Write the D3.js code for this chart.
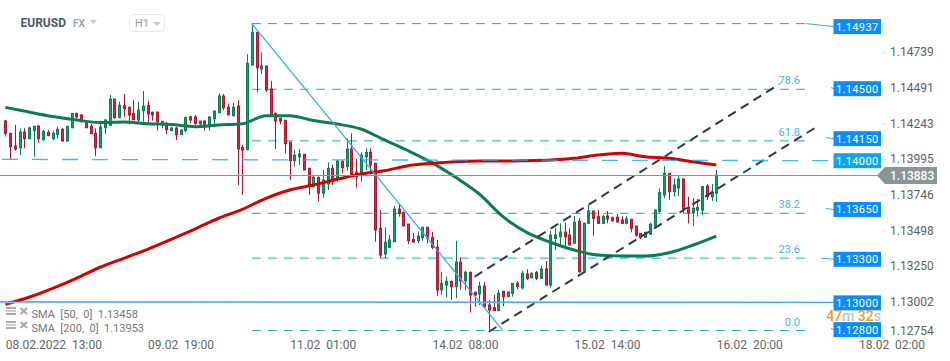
<!DOCTYPE html>
<html>
<head>
<meta charset="utf-8">
<script src="https://cdn.jsdelivr.net/npm/d3@7"></script>
<style>
    body { margin: 0; background: #fff; }
    svg { display: block; font-family: Roboto, sans-serif; }
</style>
</head>
<body>
<script>
// hourly candles, index 0 = 08.02.2022 13:00
const opens = [
    1.14259,1.14173,1.14085,1.14073,1.14182,1.14136,1.14192,1.14224,1.14129,1.14180,
    1.14136,1.14164,1.14201,1.14120,1.14212,1.14312,1.14301,1.14254,1.14222,1.14173,
    1.14073,1.14212,1.14229,1.14412,1.14282,1.14368,1.14354,1.14312,1.14266,1.14331,
    1.14368,1.14321,1.14321,1.14238,1.14229,1.14192,1.14210,1.14164,1.14192,1.14289,
    1.14287,1.14238,1.14259,1.14219,1.14275,1.14317,1.14433,1.14354,1.14298,1.14363,
    1.14076,1.14059,1.14649,1.14876,1.14621,1.14642,1.14482,1.14312,1.14278,1.14264,
    1.14111,1.13983,1.14010,1.14027,1.13930,1.13804,1.13867,1.13756,1.13820,1.13930,
    1.13860,1.13978,1.13941,1.14064,1.13902,1.13883,1.14010,1.14041,1.13964,1.13512,
    1.13333,1.13380,1.13419,1.13646,1.13623,1.13542,1.13435,1.13426,1.13447,1.13519,
    1.13449,1.13380,1.13083,1.13117,1.13143,1.13106,1.13277,1.13147,1.13206,1.13067,
    1.13055,1.13110,1.12978,1.12959,1.12939,1.13074,1.13036,1.13060,1.13129,1.13097,
    1.13194,1.13168,1.13203,1.13164,1.13229,1.13117,1.13442,1.13454,1.13486,1.13465,
    1.13408,1.13561,1.13217,1.13547,1.13632,1.13593,1.13547,1.13598,1.13587,1.13589,
    1.13570,1.13547,1.13575,1.13528,1.13477,1.13449,1.13472,1.13528,1.13628,1.13744,
    1.13895,1.13767,1.13793,1.13855,1.13658,1.13621,1.13639,1.13639,1.13806,1.13732,1.13756
];
const highs = [
    1.14266,1.14173,1.14231,1.14208,1.14208,1.14219,1.14224,1.14229,1.14196,1.14196,
    1.14192,1.14219,1.14210,1.14224,1.14312,1.14317,1.14308,1.14261,1.14238,1.14208,
    1.14247,1.14270,1.14440,1.14412,1.14393,1.14447,1.14359,1.14405,1.14393,1.14468,
    1.14400,1.14321,1.14324,1.14257,1.14254,1.14219,1.14219,1.14196,1.14289,1.14296,
    1.14301,1.14259,1.14261,1.14289,1.14331,1.14451,1.14447,1.14382,1.14386,1.14405,
    1.14092,1.14723,1.14937,1.14876,1.14737,1.14642,1.14537,1.14319,1.14282,1.14264,
    1.14115,1.14057,1.14064,1.14027,1.13930,1.13878,1.13871,1.13918,1.13971,1.13953,
    1.13987,1.13987,1.14138,1.14173,1.13994,1.14041,1.14069,1.14069,1.13964,1.13639,
    1.13519,1.13465,1.13667,1.13686,1.13628,1.13542,1.13481,1.13488,1.13523,1.13519,
    1.13488,1.13431,1.13210,1.13175,1.13147,1.13424,1.13310,1.13217,1.13210,1.13071,
    1.13140,1.13138,1.13013,1.13048,1.13083,1.13076,1.13071,1.13131,1.13145,1.13217,
    1.13227,1.13203,1.13215,1.13250,1.13284,1.13495,1.13512,1.13547,1.13551,1.13512,
    1.13598,1.13582,1.13551,1.13674,1.13632,1.13639,1.13605,1.13632,1.13593,1.13612,
    1.13598,1.13598,1.13575,1.13528,1.13477,1.13488,1.13551,1.13644,1.13790,1.13946,
    1.13895,1.13860,1.13876,1.13860,1.13732,1.13721,1.13716,1.13806,1.13820,1.13820,1.13918
];
const lows = [
    1.14150,1.13992,1.14052,1.14022,1.14069,1.14134,1.14011,1.14108,1.14122,1.14154,
    1.14127,1.14138,1.14115,1.14115,1.14210,1.14277,1.14247,1.14210,1.14168,1.14015,
    1.14071,1.14168,1.14224,1.14275,1.14280,1.14289,1.14236,1.14266,1.14247,1.14247,
    1.14238,1.14261,1.14192,1.14208,1.14168,1.14192,1.14127,1.14164,1.14182,1.14243,
    1.14231,1.14219,1.14192,1.14192,1.14215,1.14317,1.14335,1.14301,1.14289,1.13813,
    1.13744,1.14057,1.14644,1.14459,1.14586,1.14461,1.14296,1.14064,1.14236,1.14034,
    1.13848,1.13941,1.13953,1.13918,1.13744,1.13795,1.13697,1.13725,1.13779,1.13813,
    1.13836,1.13895,1.13913,1.13888,1.13795,1.13832,1.13918,1.13888,1.13419,1.13303,
    1.13303,1.13377,1.13419,1.13593,1.13523,1.13403,1.13412,1.13408,1.13426,1.13408,
    1.13366,1.13041,1.13048,1.13032,1.13013,1.13025,1.13083,1.13083,1.12925,1.12966,
    1.12978,1.12964,1.12800,1.12936,1.12936,1.12971,1.13034,1.13036,1.13087,1.13087,
    1.13152,1.13164,1.13152,1.13164,1.13117,1.13099,1.13361,1.13384,1.13384,1.13391,
    1.13403,1.13203,1.13210,1.13542,1.13461,1.13542,1.13542,1.13547,1.13558,1.13554,
    1.13540,1.13540,1.13484,1.13454,1.13438,1.13447,1.13470,1.13523,1.13623,1.13721,
    1.13709,1.13732,1.13737,1.13616,1.13547,1.13530,1.13593,1.13605,1.13709,1.13702,1.13697
];
const closes = [
    1.14173,1.14080,1.14064,1.14182,1.14136,1.14210,1.14222,1.14136,1.14187,1.14157,
    1.14173,1.14201,1.14120,1.14222,1.14312,1.14287,1.14261,1.14212,1.14171,1.14073,
    1.14217,1.14266,1.14410,1.14282,1.14368,1.14345,1.14301,1.14268,1.14335,1.14363,
    1.14308,1.14301,1.14254,1.14257,1.14199,1.14210,1.14164,1.14196,1.14284,1.14266,
    1.14243,1.14259,1.14219,1.14287,1.14328,1.14433,1.14352,1.14301,1.14354,1.14064,
    1.14057,1.14660,1.14876,1.14630,1.14642,1.14475,1.14301,1.14259,1.14259,1.14101,
    1.13983,1.14020,1.14029,1.13918,1.13813,1.13867,1.13756,1.13848,1.13930,1.13836,
    1.13980,1.13934,1.14064,1.13888,1.13871,1.14022,1.14041,1.13953,1.13500,1.13326,
    1.13415,1.13431,1.13646,1.13616,1.13530,1.13426,1.13417,1.13458,1.13519,1.13442,
    1.13380,1.13083,1.13129,1.13143,1.13106,1.13277,1.13147,1.13206,1.13048,1.13048,
    1.13110,1.12966,1.12943,1.12939,1.13060,1.13036,1.13069,1.13129,1.13106,1.13199,
    1.13164,1.13199,1.13164,1.13229,1.13117,1.13465,1.13465,1.13486,1.13454,1.13396,
    1.13554,1.13210,1.13547,1.13632,1.13582,1.13547,1.13593,1.13577,1.13565,1.13556,
    1.13547,1.13577,1.13512,1.13465,1.13447,1.13484,1.13540,1.13639,1.13760,1.13895,
    1.13767,1.13813,1.13855,1.13646,1.13621,1.13651,1.13658,1.13802,1.13732,1.13765,1.13883
];

// moving averages, one reading every 5 candles
const smaStep = 5;
const sma50 = [
    1.14354,1.14321,1.14290,1.14266,1.14248,1.14252,1.14240,1.14234,1.14219,1.14231,
    1.14240,1.14296,1.14296,1.14262,1.14238,1.14203,1.14127,1.14052,1.13969,1.13867,
    1.13751,1.13593,1.13484,1.13415,1.13361,1.13326,1.13319,1.13319,1.13342,1.13394,1.13458
];
const sma200 = [
    1.12983,1.13032,1.13094,1.13164,1.13241,1.13303,1.13366,1.13435,1.13507,1.13582,
    1.13644,1.13721,1.13779,1.13813,1.13853,1.13890,1.13913,1.13948,1.13964,1.13976,
    1.13980,1.13980,1.13983,1.13987,1.13999,1.14022,1.14034,1.14010,1.13999,1.13976,1.13953
];

const fibHigh = 1.14937;
const fibLow = 1.128;
const fibStartIndex = 52;
const fibEndIndex = 105;
const fibRightIndex = 169;
const fibRatios = [100, 78.6, 61.8, 38.2, 23.6, 0];

const channelUpper = [{ i: 99, p: 1.13175 }, { i: 163.3, p: 1.14516 }];
const channelLower = [{ i: 102, p: 1.12792 }, { i: 171.2, p: 1.14219 }];

const lastPrice = 1.13883;
const boxLevels = [1.14937, 1.145, 1.1415, 1.14, 1.1365, 1.133, 1.13, 1.128];
const yTicks = [1.14739, 1.14491, 1.14243, 1.13995, 1.13746, 1.13498, 1.1325, 1.13002, 1.12754];
const xTicks = [0, 30, 60, 90, 120, 150, 180];
const xLabels = ['08.02.2022  13:00', '09.02  19:00', '11.02  01:00', '14.02  08:00', '15.02  14:00', '16.02  20:00', '18.02  02:00'];
const legendRows = ['SMA  [50,  0]  1.13458', 'SMA  [200,  0]  1.13953'];

const width = 950;
const height = 361;
const candles = d3.range(opens.length);

const x = d3.scaleLinear().domain([0, 150]).range([5.3, 716.3]);
const y = d3.scaleLinear().domain([fibHigh, fibLow]).range([23.6, 330.6]);

const svg = d3.select('body').append('svg')
    .attr('width', width)
    .attr('height', height);

// fibonacci levels
const fibPrice = r => fibLow + (fibHigh - fibLow) * r / 100;
const gFib = svg.append('g');
gFib.selectAll('line')
    .data(fibRatios)
    .enter().append('line')
    .attr('x1', x(fibStartIndex))
    .attr('x2', x(fibRightIndex))
    .attr('y1', d => y(fibPrice(d)))
    .attr('y2', d => y(fibPrice(d)))
    .attr('stroke', '#12a5ef')
    .attr('stroke-dasharray', '9 7');
gFib.selectAll('text')
    .data(fibRatios.filter(d => d < 100))
    .enter().append('text')
    .attr('x', 800)
    .attr('y', d => y(fibPrice(d)) - 5)
    .attr('text-anchor', 'end')
    .attr('font-size', 11)
    .attr('fill', '#3ab4f5')
    .text(d => d.toFixed(1));

// candles
const gCandle = svg.append('g')
    .selectAll('g')
    .data(candles)
    .enter().append('g');
const up = i => closes[i] >= opens[i];

gCandle.append('line')
    .attr('x1', i => Math.round(x(i)) + 0.5)
    .attr('x2', i => Math.round(x(i)) + 0.5)
    .attr('y1', i => y(highs[i]))
    .attr('y2', i => y(lows[i]))
    .attr('stroke', i => up(i) ? '#0b7d53' : '#a8192e');

gCandle.append('rect')
    .attr('x', i => Math.round(x(i)) - 0.5)
    .attr('width', 2)
    .attr('y', i => y(Math.max(opens[i], closes[i])))
    .attr('height', i => Math.max(1, Math.abs(y(opens[i]) - y(closes[i]))))
    .attr('fill', i => up(i) ? '#12a063' : '#e0213f')
    .attr('stroke', i => up(i) ? '#0b7d53' : '#b01a30');

// moving averages
const smaLine = d3.line()
    .x((d, i) => x(i * smaStep))
    .y(d => y(d))
    .curve(d3.curveMonotoneX);

svg.append('path')
    .attr('d', smaLine(sma50))
    .attr('fill', 'none')
    .attr('stroke', '#0b7d53')
    .attr('stroke-width', 3);
svg.append('path')
    .attr('d', smaLine(sma200))
    .attr('fill', 'none')
    .attr('stroke', '#d40000')
    .attr('stroke-width', 3);

// fib diagonal
svg.append('line')
    .attr('x1', x(fibStartIndex))
    .attr('y1', y(fibHigh))
    .attr('x2', x(fibEndIndex))
    .attr('y2', y(fibLow))
    .attr('stroke', '#30aef5')
    .attr('stroke-width', 1.3);

// channel
const chanLine = d3.line().x(d => x(d.i)).y(d => y(d.p));
svg.selectAll('.chan')
    .data([channelUpper, channelLower])
    .enter().append('path')
    .attr('class', 'chan')
    .attr('d', chanLine)
    .attr('fill', 'none')
    .attr('stroke', '#2e3a45')
    .attr('stroke-width', 2)
    .attr('stroke-dasharray', '9 6');

// hand drawn 1.14 / 1.13 levels
svg.append('line')
    .attr('x1', 2).attr('x2', 828)
    .attr('y1', y(1.14) + 1.2).attr('y2', y(1.14) + 2.4)
    .attr('stroke', '#1ab0f5')
    .attr('stroke-opacity', 0.85)
    .attr('stroke-width', 1.3)
    .attr('stroke-dasharray', '16 14');
svg.append('line')
    .attr('x1', 0).attr('x2', 780)
    .attr('y1', y(1.13) + 0.6).attr('y2', y(1.13) + 0.6)
    .attr('stroke', '#b5dcfd')
    .attr('stroke-width', 1.6);
svg.append('line')
    .attr('x1', 0).attr('x2', 834)
    .attr('y1', y(1.13)).attr('y2', y(1.13) + 0.4)
    .attr('stroke', '#0a8cff');

// connector stubs to the boxes
const boxNudge = [3, 2.3, 2, 2.5, 1, 0.5, 1, -1];
const stubStart = [806, 831, 826, null, 826, 821, null, 831];
svg.append('g')
    .selectAll('line')
    .data(boxLevels.map((d, i) => i).filter(i => stubStart[i] !== null))
    .enter().append('line')
    .attr('x1', i => stubStart[i])
    .attr('x2', 834)
    .attr('y1', i => i === 0 ? y(boxLevels[i]) : y(boxLevels[i]) + boxNudge[i] - 1)
    .attr('y2', i => y(boxLevels[i]) + boxNudge[i])
    .attr('stroke', '#3aa6f5');

// current price line and tag
const yLast = y(lastPrice);
svg.append('line')
    .attr('x1', 0).attr('x2', 880)
    .attr('y1', yLast + 0.5).attr('y2', yLast + 0.5)
    .attr('stroke', '#8a9298');

// y axis
const yAxis = svg.append('g')
    .attr('transform', 'translate(881,0)')
    .call(d3.axisRight(y).tickValues(yTicks).tickFormat(d3.format('.5f')).tickSize(6).tickPadding(3));
yAxis.select('.domain').remove();
yAxis.selectAll('line').attr('stroke', '#e6e6e6');
yAxis.selectAll('text')
    .attr('font-family', 'Roboto, sans-serif')
    .attr('font-size', 12)
    .attr('fill', '#5a5f64');
yAxis.selectAll('.tick')
    .filter(d => d === 1.12754)
    .attr('transform', 'translate(0,331)');

svg.append('path')
    .attr('d', `M877,${yLast + 0.5}L885,167H937V184H885Z`)
    .attr('fill', '#8a9599');
svg.append('text')
    .attr('x', 890)
    .attr('y', yLast + 4.6)
    .attr('font-size', 12)
    .attr('font-weight', 500)
    .attr('fill', '#fff')
    .text(lastPrice.toFixed(5));

// price boxes
const gBox = svg.append('g')
    .selectAll('g')
    .data(boxLevels)
    .enter().append('g')
    .attr('transform', (d, i) => `translate(833.5,${y(d) + boxNudge[i]})`);
gBox.append('rect')
    .attr('y', -7.5)
    .attr('width', 47.5)
    .attr('height', 15)
    .attr('fill', d => d === 1.14 ? '#0aa5ef' : '#0a8cff');
gBox.append('text')
    .attr('x', 2.5)
    .attr('y', 4)
    .attr('font-size', 11)
    .attr('letter-spacing', 0.35)
    .attr('fill', '#fff')
    .text(d => d.toFixed(5));

// countdown
const countdown = svg.append('text')
    .attr('x', 881)
    .attr('y', 321)
    .attr('text-anchor', 'end')
    .attr('font-size', 14)
    .attr('font-weight', 500)
    .attr('fill', '#c4c4c4');
countdown.append('tspan').attr('fill', '#f59b23').text('47');
countdown.append('tspan').text('m ');
countdown.append('tspan').attr('fill', '#f59b23').text('32');
countdown.append('tspan').text('s');

// x axis
const xAxis = svg.append('g')
    .attr('transform', 'translate(0,335)')
    .call(d3.axisBottom(x).tickValues(xTicks).tickFormat((d, i) => xLabels[i]).tickSize(4).tickPadding(1));
xAxis.select('.domain').remove();
xAxis.selectAll('line').attr('stroke', '#e6e6e6');
xAxis.selectAll('text')
    .attr('font-family', 'Roboto, sans-serif')
    .attr('font-size', 12)
    .attr('fill', '#666')
    .attr('text-anchor', 'start')
    .style('white-space', 'pre');

// header
svg.append('text').attr('x', 20.5).attr('y', 27).attr('font-size', 12).attr('font-weight', 700).attr('fill', '#4e5962').text('EURUSD');
svg.append('text').attr('x', 73).attr('y', 27).attr('font-size', 10).attr('font-weight', 700).attr('fill', '#9aa8b2').text('FX');
svg.append('path').attr('d', 'M90,20H97L93.5,24Z').attr('fill', '#c4c9cc');
svg.append('rect').attr('x', 129.5).attr('y', 14.5).attr('width', 35).attr('height', 17).attr('rx', 3).attr('fill', 'none').attr('stroke', '#e8e8e8');
svg.append('text').attr('x', 135).attr('y', 27).attr('font-size', 11).attr('fill', '#9a9a9a').text('H1');
svg.append('path').attr('d', 'M153,22H161L157,26Z').attr('fill', '#c4c9cc');

// indicator legend
const gLegend = svg.append('g')
    .selectAll('g')
    .data(legendRows)
    .enter().append('g')
    .attr('transform', (d, i) => `translate(0,${314 + i * 14})`);
gLegend.append('rect').attr('x', 6).attr('y', -7).attr('width', 10).attr('height', 2).attr('fill', '#aaa');
gLegend.append('rect').attr('x', 6).attr('y', -4).attr('width', 10).attr('height', 2).attr('fill', '#ccc');
gLegend.append('rect').attr('x', 6).attr('y', -1).attr('width', 10).attr('height', 2).attr('fill', '#aaa');
gLegend.append('path')
    .attr('d', 'M20.5,-6L27,0M27,-6L20.5,0')
    .attr('stroke', '#aaa')
    .attr('stroke-width', 2);
gLegend.append('text')
    .attr('x', 31.5)
    .attr('y', 4)
    .attr('font-size', 11)
    .attr('fill', '#777')
    .style('white-space', 'pre')
    .text(d => d);
</script>
</body>
</html>
